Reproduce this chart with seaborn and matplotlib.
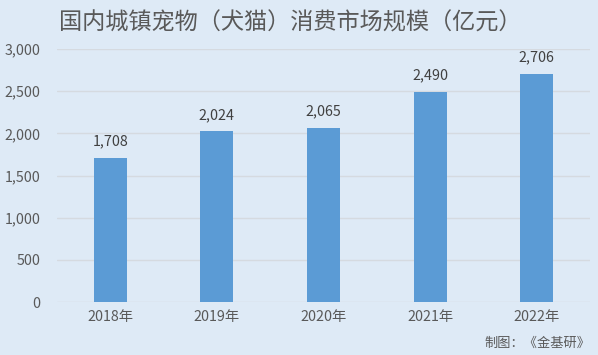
import matplotlib
matplotlib.use('Agg')
import matplotlib.pyplot as plt
import seaborn as sns
import pandas as pd

years = ['2018年', '2019年', '2020年', '2021年', '2022年']
values = [1708, 2024, 2065, 2490, 2706]
yticks = [0, 500, 1000, 1500, 2000, 2500, 3000]

bg = '#DEEAF6'
grey = '#595959'

sns.set_style('white')
plt.rcParams['font.family'] = ['Noto Sans CJK SC', 'DejaVu Sans']

df = pd.DataFrame({'year': years, 'value': values})

fig = plt.figure(figsize=(5.98, 3.55), dpi=100, facecolor=bg)
ax = fig.add_axes([57/598, 53/355, 533/598, 253/355])
ax.set_facecolor(bg)

sns.barplot(data=df, x='year', y='value', color='#5B9BD5', width=0.31,
            saturation=1, edgecolor='none', linewidth=0, ax=ax, zorder=3)

ax.set_ylim(0, 3000)
ax.set_yticks(yticks)
ax.set_yticklabels([f'{v:,}' for v in yticks])
ax.grid(axis='y', color='#D5DAE0', linewidth=1, zorder=0)
for s in ax.spines.values():
    s.set_visible(False)
ax.tick_params(axis='both', length=0, labelsize=10.3, colors=grey)
ax.tick_params(axis='y', pad=12)
ax.tick_params(axis='x', pad=6)
ax.set_xlabel('')
ax.set_ylabel('')

for i, v in enumerate(values):
    ax.text(i, v + 110, f'{v:,}', ha='center', va='bottom', fontsize=10.3, color='#404040')

fig.text(290/598, 1 - 23/355, '国内城镇宠物（犬猫）消费市场规模（亿元）', ha='center', va='center',
         fontsize=16.7, color=grey)
fig.text(590/598, 1 - 343/355, '制图：《金基研》', ha='right', va='center',
         fontsize=9.5, color=grey)

fig.savefig('out.png', dpi=100, facecolor=bg)
